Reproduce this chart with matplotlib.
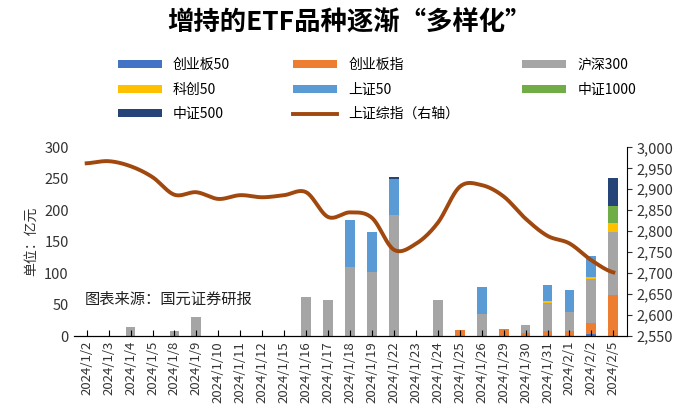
import matplotlib
matplotlib.use("Agg")
import matplotlib.pyplot as plt
import numpy as np
plt.rcParams['font.family'] = ['Noto Sans CJK SC', 'DejaVu Sans']

dates = ["2024/1/2","2024/1/3","2024/1/4","2024/1/5","2024/1/8","2024/1/9","2024/1/10","2024/1/11","2024/1/12","2024/1/15","2024/1/16","2024/1/17","2024/1/18","2024/1/19","2024/1/22","2024/1/23","2024/1/24","2024/1/25","2024/1/26","2024/1/29","2024/1/30","2024/1/31","2024/2/1","2024/2/2","2024/2/5"]
cyb50  = [0,0,0,0,0,0,0,0,0,0,0,0,0,0,0,0,0,0,0,1,0,0,0,3,0]
cybz   = [0,0,0,0,0,0,0,0,0,0,0,0,0,0,0,0,0,10,0,10,5,8,8,18,65]
hs300  = [0,0,15,0,8,30,0,0,0,0,62,58,110,102,193,0,57,0,35,0,12,45,30,70,100]
kc50   = [0,0,0,0,0,0,0,0,0,0,0,0,0,0,0,0,0,0,0,0,0,3,0,3,15]
sz50   = [0,0,0,0,0,0,0,0,0,0,0,0,75,63,57,0,0,0,43,0,0,26,36,33,0]
zz1000 = [0,0,0,0,0,0,0,0,0,0,0,0,0,0,0,0,0,0,0,0,0,0,0,0,27]
zz500  = [0,0,0,0,0,0,0,0,0,0,0,0,0,0,3,0,0,0,0,0,0,0,0,0,45]
szzz   = [2962,2967,2955,2929,2887,2893,2877,2886,2881,2886,2893,2834,2845,2832,2756,2770,2820,2906,2910,2883,2830,2789,2771,2731,2702]

series = [("创业板50",cyb50,"#4472C4"),("创业板指",cybz,"#ED7D31"),("沪深300",hs300,"#A5A5A5"),
          ("科创50",kc50,"#FFC000"),("上证50",sz50,"#5B9BD5"),("中证1000",zz1000,"#70AD47"),
          ("中证500",zz500,"#264478")]

fig = plt.figure(figsize=(7,4.15), dpi=100)
ax = fig.add_axes([0.105,0.19,0.79,0.455])
x = np.arange(len(dates))
bottom = np.zeros(len(dates))
handles = []
for name, vals, c in series:
    v = np.array(vals, float)
    h = ax.bar(x, v, 0.45, bottom=bottom, color=c, label=name)
    bottom += v
    handles.append(h)
ax.set_ylim(0,300)
ax.set_yticks(range(0,301,50))
ax.set_xlim(-0.6, len(dates)-0.4)
ax.set_xticks(x)
ax.set_xticklabels(dates, rotation=90, fontsize=9.5, color="#333333")
ax.tick_params(axis='x', length=4, direction='in')
ax.tick_params(axis='y', labelsize=10.5, colors="#333333", length=0)
ax.set_ylabel("单位：亿元", fontsize=10, color="#333333")
for s in ["top","right","left"]:
    ax.spines[s].set_visible(False)
ax2 = ax.twinx()
t = np.linspace(0, len(x)-1, 600)
p = np.array(szzz, float)
pp = np.concatenate([[p[0]], p, [p[-1]]])
i = np.clip(np.floor(t).astype(int), 0, len(p)-2)
u = t - i
p0, p1, p2, p3 = pp[i], pp[i+1], pp[i+2], pp[i+3]
ys = 0.5*((2*p1)+(-p0+p2)*u+(2*p0-5*p1+4*p2-p3)*u**2+(-p0+3*p1-3*p2+p3)*u**3)
ln, = ax2.plot(t, ys, color="#A0480E", lw=2.8, label="上证综指（右轴）")
ax2.set_ylim(2550,3000)
ax2.set_yticks(range(2550,3001,50))
ax2.set_yticklabels([f"{v:,}" for v in range(2550,3001,50)])
ax2.tick_params(axis='y', labelsize=10.5, colors="#333333")
for s in ["top","left"]:
    ax2.spines[s].set_visible(False)
ax.text(0.02, 0.17, "图表来源：国元证券研报", transform=ax.transAxes, fontsize=11, color="#222222")
fig.text(0.5, 0.945, "增持的ETF品种逐渐“多样化”", ha="center", va="center", fontsize=19, fontweight="bold")
allh = handles + [ln]
order = [0,3,6,1,4,7,2,5]
fig.legend([allh[k] for k in order], [allh[k].get_label() for k in order], ncol=3,
           loc="upper left", bbox_to_anchor=(0.15,0.89), frameon=False, fontsize=10,
           columnspacing=4.5, handlelength=3.2, handleheight=0.5, labelspacing=0.75)
fig.savefig("out.png", dpi=100)
